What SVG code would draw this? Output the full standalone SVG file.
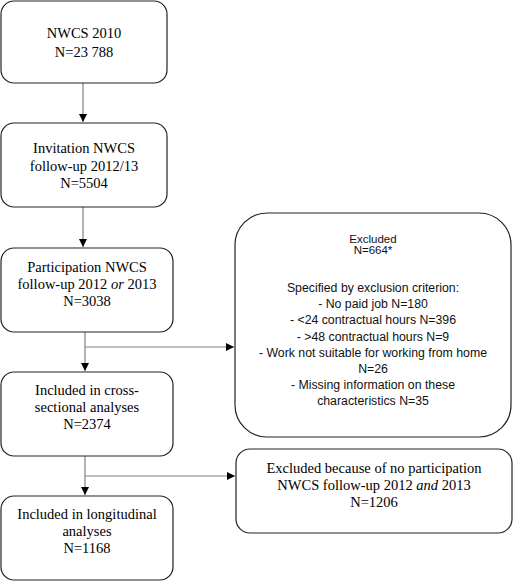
<svg xmlns="http://www.w3.org/2000/svg" width="513" height="581" viewBox="0 0 513 581">
<defs>
<style>
.box{fill:#fff;stroke:#222;stroke-width:1.2}
.t{font-family:"Liberation Serif","Times New Roman",serif;font-size:14.5px;fill:#000;text-anchor:middle}
.s{font-family:"Liberation Sans",Arial,sans-serif;font-size:12.3px;fill:#111;text-anchor:middle}
.sm{font-size:11.5px}
.c{fill:none;stroke:#808080;stroke-width:1.2}
</style>
<marker id="ah" viewBox="0 0 10 10" refX="10" refY="5" markerWidth="8" markerHeight="8" markerUnits="userSpaceOnUse" orient="auto">
<path d="M0,0 L10,5 L0,10 Z" fill="#000"/>
</marker>
</defs>
<rect width="513" height="581" fill="#fff"/>
<g id="connectors">
<path class="c" d="M83,83 V122" marker-end="url(#ah)"/>
<path class="c" d="M83,207 V247" marker-end="url(#ah)"/>
<path class="c" d="M85,332 V371" marker-end="url(#ah)"/>
<path class="c" d="M85,347 H234" marker-end="url(#ah)"/>
<path class="c" d="M85,456 V495" marker-end="url(#ah)"/>
<path class="c" d="M85,476 H235" marker-end="url(#ah)"/>
</g>
<g id="n1">
<rect class="box" x="1" y="1" width="166" height="82" rx="13"/>
<text class="t" x="84" y="38">NWCS 2010</text>
<text class="t" x="84" y="57">N=23 788</text>
</g>
<g id="n2">
<rect class="box" x="1" y="123" width="166" height="84" rx="13"/>
<text class="t" x="84" y="153">Invitation NWCS</text>
<text class="t" x="84" y="170.5">follow-up 2012/13</text>
<text class="t" x="84" y="188">N=5504</text>
</g>
<g id="n3">
<rect class="box" x="1" y="248" width="172" height="84" rx="13"/>
<text class="t" x="87" y="272">Participation NWCS</text>
<text class="t" x="87" y="289">follow-up 2012 <tspan font-style="italic">or</tspan> 2013</text>
<text class="t" x="87" y="306">N=3038</text>
</g>
<g id="n4">
<rect class="box" x="1" y="372" width="172" height="84" rx="13"/>
<text class="t" x="87" y="395">Included in cross-</text>
<text class="t" x="87" y="412">sectional analyses</text>
<text class="t" x="87" y="429">N=2374</text>
</g>
<g id="n5">
<rect class="box" x="1" y="496" width="172" height="84" rx="13"/>
<text class="t" x="87" y="519">Included in longitudinal</text>
<text class="t" x="87" y="536">analyses</text>
<text class="t" x="87" y="553">N=1168</text>
</g>
<g id="n6">
<rect class="box" x="235" y="213" width="276" height="224" rx="32"/>
<text class="s sm" x="373" y="242.5">Excluded</text>
<text class="s sm" x="373" y="254">N=664*</text>
<text class="s" x="373" y="292">Specified by exclusion criterion:</text>
<text class="s" x="373" y="308.2">- No paid job N=180</text>
<text class="s" x="373" y="324.4">- &lt;24 contractual hours N=396</text>
<text class="s" x="373" y="340.6">- &gt;48 contractual hours N=9</text>
<text class="s" x="373" y="356.8">- Work not suitable for working from home</text>
<text class="s" x="373" y="373">N=26</text>
<text class="s" x="373" y="389.2">- Missing information on these</text>
<text class="s" x="373" y="405.4">characteristics N=35</text>
</g>
<g id="n7">
<rect class="box" x="236" y="449" width="276" height="84" rx="14"/>
<text class="t" x="374" y="473">Excluded because of no participation</text>
<text class="t" x="374" y="490">NWCS follow-up 2012 <tspan font-style="italic">and</tspan> 2013</text>
<text class="t" x="374" y="507">N=1206</text>
</g>
</svg>
